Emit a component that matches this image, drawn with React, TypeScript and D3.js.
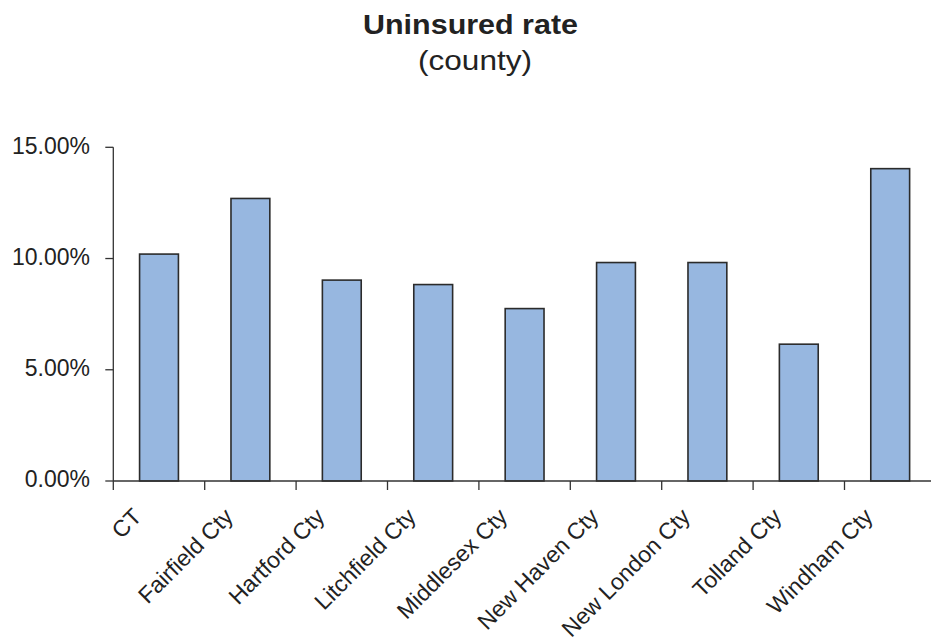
import * as d3 from "d3";
import { useMemo } from "react";

const W = 931;
const H = 643;
const LEFT = 113.3;
const STEP = 91.4;
const Y0 = 481;
const Y15 = 147.3;

const counties = [
  "CT",
  "Fairfield Cty",
  "Hartford Cty",
  "Litchfield Cty",
  "Middlesex Cty",
  "New Haven Cty",
  "New London Cty",
  "Tolland Cty",
  "Windham Cty",
];
const rates = [0.102, 0.127, 0.0903, 0.0883, 0.0775, 0.0982, 0.0982, 0.0615, 0.1404];
const yTicks = [0, 0.05, 0.1, 0.15];

const FONT = "Arial, 'Liberation Sans', sans-serif";
const INK = "#222";

export default function App() {
  const x = useMemo(
    () =>
      d3
        .scaleBand<string>()
        .domain(counties)
        .range([LEFT, LEFT + STEP * counties.length])
        .padding(0),
    [],
  );
  const y = useMemo(() => d3.scaleLinear().domain([0, 0.15]).range([Y0, Y15]), []);
  const fmt = d3.format(".2%");
  const barW = x.bandwidth() * 0.425;

  return (
    <svg
      width={W}
      height={H}
      style={{ position: "absolute", left: 0, top: 0, background: "#fff" }}
      fontFamily={FONT}
    >
      {/* title, stretched a little to match the original's wide lettering */}
      <text
        x={470.5}
        y={34}
        textAnchor="middle"
        fontSize={27}
        fontWeight="bold"
        fill={INK}
        textLength={215}
        lengthAdjust="spacingAndGlyphs"
      >
        Uninsured rate
      </text>
      <text
        x={475}
        y={69.5}
        textAnchor="middle"
        fontSize={28}
        fill={INK}
        textLength={114}
        lengthAdjust="spacingAndGlyphs"
      >
        (county)
      </text>

      {/* bars */}
      {counties.map((c, i) => {
        const cx = (x(c) ?? 0) + x.bandwidth() / 2;
        return (
          <rect
            key={c}
            x={cx - barW / 2}
            y={y(rates[i])}
            width={barW}
            height={Y0 - y(rates[i])}
            fill="#97B7E0"
            stroke="#2b2b2b"
            strokeWidth={1.6}
          />
        );
      })}

      {/* y axis */}
      <line x1={LEFT} x2={LEFT} y1={Y15} y2={Y0} stroke="#333" strokeWidth={1.3} />
      {yTicks.map((t) => (
        <g key={t}>
          <line x1={LEFT - 8} x2={LEFT} y1={y(t)} y2={y(t)} stroke="#333" strokeWidth={1.3} />
          <text x={90} y={y(t)} dy="0.28em" textAnchor="end" fontSize={23} fill={INK}>
            {fmt(t)}
          </text>
        </g>
      ))}

      {/* x axis */}
      <line x1={LEFT} x2={W} y1={Y0} y2={Y0} stroke="#333" strokeWidth={1.3} />
      {counties.map((c) => (
        <line
          key={c}
          x1={x(c) ?? 0}
          x2={x(c) ?? 0}
          y1={Y0}
          y2={Y0 + 9}
          stroke="#333"
          strokeWidth={1.3}
        />
      ))}
      {counties.map((c) => {
        const cx = (x(c) ?? 0) + x.bandwidth() / 2;
        return (
          <text
            key={c}
            transform={`translate(${cx - 16},${Y0 + 37}) rotate(-45)`}
            textAnchor="end"
            fontSize={23}
            fill={INK}
          >
            {c}
          </text>
        );
      })}
    </svg>
  );
}
